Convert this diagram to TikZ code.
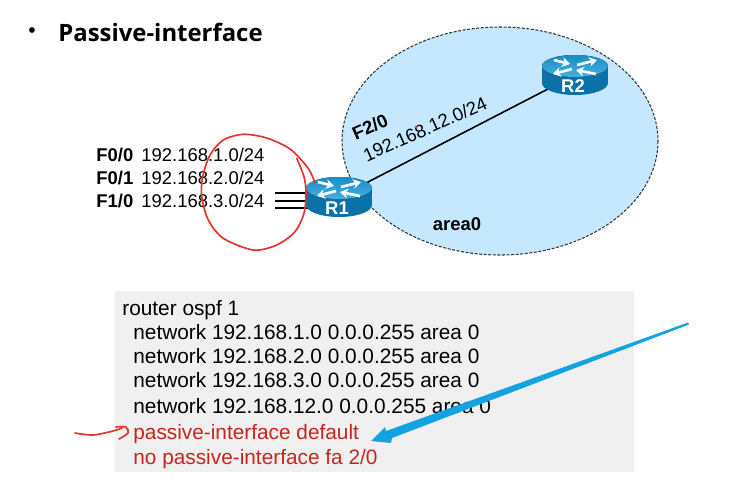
\documentclass[tikz,border=0pt]{standalone}
\usepackage{fontspec}
\setmainfont{Liberation Sans}
\newfontfamily\titlefont{Open Sans}
\usetikzlibrary{arrows.meta,calc}
\definecolor{areablue}{HTML}{C6E8FF}
\definecolor{boxgray}{HTML}{F0F0F0}
\definecolor{penred}{HTML}{E5352B}
\definecolor{cfgred}{HTML}{C4261D}
\definecolor{arrowblue}{HTML}{12A3E3}
\definecolor{routertop}{HTML}{1B9AD6}
\definecolor{routerbody}{HTML}{0B72A8}
\tikzset{
	lbl/.style={inner sep=0pt, font=\fontsize{10.5}{12}\selectfont},
	lblbold/.style={lbl, font=\fontsize{10.5}{12}\selectfont\bfseries},
	cfg/.style={inner sep=0pt, anchor=base west, font=\fontsize{11.85}{14}\selectfont},
	cfgcmd/.style={cfg, text=cfgred},
	pen/.style={penred, line width=0.95pt, line cap=round, line join=round},
	link/.style={black, line width=0.9pt},
	dot/.style={inner sep=0pt, minimum size=0pt},
	rarrow/.style={white, line width=1.5pt, -{Stealth[length=4.5pt, width=5.5pt]}},
}
% one router icon, drawn round a node that is already placed
\def\router(#1)#2{
	\begin{scope}[shift={(#1)}]
		\fill[routerbody] (0, 8) ellipse (33 and 12);
		\fill[routerbody] (-33, -9) rectangle (33, 8);
		\fill[top color=routertop!70!routerbody, bottom color=routertop!80!white] (0, -9) ellipse (33 and 11);
		\draw[rarrow] (-21, -15) -- (-5, -11);
		\draw[rarrow] (2, -10) -- (22, -15);
		\draw[rarrow] (-3, -6) -- (-22, -1);
		\draw[rarrow] (21, -1) -- (1, -5);
		\node[inner sep=0pt, text=white, font=\fontsize{10.5}{12}\selectfont\bfseries] (#2lbl) at (-2, 11) {#2};
	\end{scope}
}

\begin{document}
\begin{tikzpicture}[x=0.02cm, y=-0.02cm]
	%%%%% START %%%%%
	\useasboundingbox (0, 0) rectangle (749, 488);

	\node[inner sep=0pt, font=\fontsize{13.6}{16}\selectfont\titlefont\bfseries, anchor=base west] (title) at (58, 41) {Passive-interface};
	\node[inner sep=0pt, font=\fontsize{12}{14}\selectfont] (bullet) at (32, 33) {•};

	% area and the two routers
	\draw[fill=areablue, draw=black!80, dash pattern=on 1.7pt off 0.9pt, line width=0.6pt] (500, 141) ellipse (158 and 114);
	\node[dot] (r1) at (339, 197) {};
	\node[dot] (r2) at (575, 75) {};
	\draw[link] (r1) -- (r2);

	% the three stub networks
	\coordinate (stub0) at (275, 193);
	\coordinate (stub1) at (275, 201);
	\coordinate (stub2) at (275, 208);
	\draw[link] (stub0) -- (stub0 -| r1);
	\draw[link] (stub1) -- (stub1 -| r1);
	\draw[link] (stub2) -- (stub2 -| r1);

	\router(r1){R1}
	\router(r2){R2}

	\node[lblbold, anchor=base west] (f00) at (96, 161) {F0/0};
	\node[lbl, anchor=base west] (net1) at (141, 161) {192.168.1.0/24};
	\node[lblbold, anchor=base west] (f01) at (96, 184) {F0/1};
	\node[lbl, anchor=base west] (net2) at (141, 184) {192.168.2.0/24};
	\node[lblbold, anchor=base west] (f10) at (96, 207) {F1/0};
	\node[lbl, anchor=base west] (net3) at (141, 207) {192.168.3.0/24};

	\node[lblbold, rotate=24] (f20) at (370, 127) {F2/0};
	\node[lbl, rotate=24] (net12) at (425, 129) {192.168.12.0/24};
	\node[lblbold] (area0) at (457, 224) {area0};
	\fill[penred] (416, 127) circle (1.5);

	% config box
	\fill[boxgray] (115, 291) rectangle (634, 472);
	\node[cfg] (cfg0) at (122, 315) {router ospf 1};
	\node[cfg] (cfg1) at (133, 339) {network 192.168.1.0 0.0.0.255 area 0};
	\node[cfg] (cfg2) at (133, 363) {network 192.168.2.0 0.0.0.255 area 0};
	\node[cfg] (cfg3) at (133, 387) {network 192.168.3.0 0.0.0.255 area 0};
	\node[cfg] (cfg4) at (133, 413) {network 192.168.12.0 0.0.0.255 area 0};
	\node[cfgcmd] (cfg5) at (133, 439) {passive-interface default};
	\node[cfgcmd] (cfg6) at (133, 464) {no passive-interface fa 2/0};

	% pen marks
	\draw[pen] plot[smooth] coordinates {(315, 183) (308, 168) (290, 149) (266.7, 138) (243.3, 134.3) (223.3, 140) (210, 155) (202.7, 176.7) (201.7, 196.7) (208.3, 220) (223.3, 238.3) (253.3, 250) (276.7, 245) (295, 231.7) (304, 213.3) (306, 193.3) (304, 176.7) (296.7, 158.3)};
	\draw[pen] plot[smooth] coordinates {(75, 433) (93, 435) (113, 431) (122, 428)};
	\draw[pen] plot[smooth] coordinates {(116, 427) (126, 427) (128, 433) (119, 439)};

	% blue arrow
	\fill[arrowblue] (688, 322.5) -- (689, 324.5) -- (392, 438) -- (391, 443) -- (371, 441) -- (385, 427) -- (386, 431) -- cycle;

	%%%%% END %%%%%
\end{tikzpicture}
\end{document}
